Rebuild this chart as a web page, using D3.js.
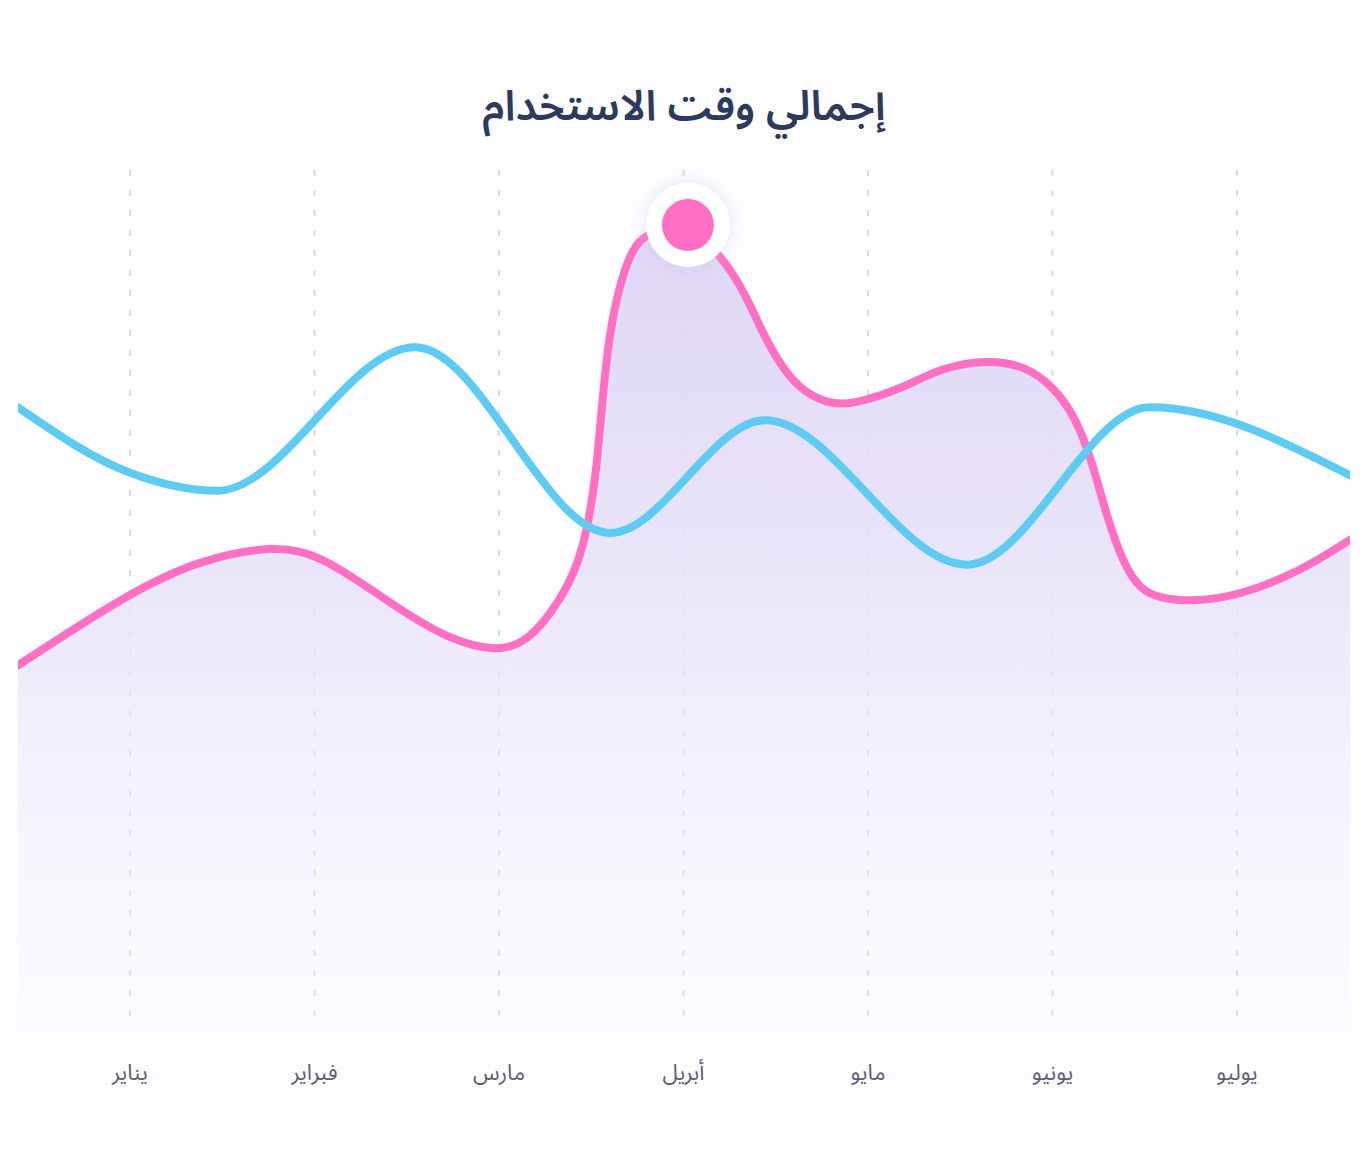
<!DOCTYPE html>
<html>
<head>
<meta charset="utf-8">
<script src="https://cdn.jsdelivr.net/npm/d3@7"></script>
<style>
  body { margin: 0; background: #fdfcff; }
  svg { display: block; }
</style>
</head>
<body>
<div id="chart"></div>
<script>
// Chart data
const months = ["يناير", "فبراير", "مارس", "أبريل", "مايو", "يونيو", "يوليو"];

// pink series: position in months (0 = يناير) and value
const pinkPos = [-0.607, 0, 0.379, 0.786, 1.046, 1.463, 1.734, 1.978, 2.168, 2.401, 2.477, 2.526, 2.558,
    2.596, 2.656, 2.721, 2.791, 3.024, 3.214, 3.344, 3.415, 3.507, 3.631, 3.778, 3.902, 4.211, 4.390, 4.661,
    4.862, 5.003, 5.111, 5.187, 5.241, 5.295, 5.382, 5.474, 5.583, 5.745, 6.0, 6.341, 6.612];
const pinkVals = [42.4, 50.9, 54.7, 56.4, 55.2, 48.8, 45.4, 44.0, 45.0, 52.1, 57.9, 64.5, 72.7,
    80.8, 86.9, 90.7, 92.7, 93.6, 89.9, 85.2, 81.7, 77.9, 74.4, 72.9, 72.6, 74.8, 77.0, 78.0,
    77.1, 74.8, 71.7, 67.8, 64.0, 59.7, 54.3, 51.2, 50.2, 49.8, 50.4, 53.3, 57.0];

// blue series
const bluePos = [-0.607, 0, 0.472, 1.545, 2.602, 3.442, 4.537, 5.528, 6.612];
const blueVals = [72.4, 64.8, 62.7, 79.4, 57.8, 70.9, 54.1, 72.4, 64.5];

const peakIndex = 17; // highlighted point on pink series

const width = 1368, height = 1150;
const plot = { left: 18, right: 1350, top: 170, bottom: 1030 };

const svg = d3.select("#chart")
    .append("svg")
    .attr("width", width)
    .attr("height", height);

const x = d3.scaleLinear().domain([0, 6]).range([130, 1237]);
const y = d3.scaleLinear().domain([0, 100]).range([plot.bottom, plot.top]);

const pinkData = pinkPos.map((p, i) => ({ p, v: pinkVals[i] }));
const blueData = bluePos.map((p, i) => ({ p, v: blueVals[i] }));

const defs = svg.append("defs");

const grad = defs.append("linearGradient")
    .attr("id", "areaGrad")
    .attr("gradientUnits", "userSpaceOnUse")
    .attr("x1", 0).attr("x2", 0)
    .attr("y1", y(95)).attr("y2", plot.bottom);
grad.append("stop").attr("offset", "0%").attr("stop-color", "#ddd5f5").attr("stop-opacity", 1);
grad.append("stop").attr("offset", "45%").attr("stop-color", "#e9e3f9").attr("stop-opacity", 0.9);
grad.append("stop").attr("offset", "100%").attr("stop-color", "#f6f2fd").attr("stop-opacity", 0.15);

const glow = defs.append("filter")
    .attr("id", "glow")
    .attr("x", "-100%").attr("y", "-100%")
    .attr("width", "300%").attr("height", "300%");
glow.append("feDropShadow")
    .attr("dx", 0).attr("dy", 0)
    .attr("stdDeviation", 8)
    .attr("flood-color", "#c9bdf0")
    .attr("flood-opacity", 0.4);

defs.append("clipPath").attr("id", "plotClip")
    .append("rect")
    .attr("x", plot.left).attr("y", 0)
    .attr("width", plot.right - plot.left).attr("height", height);

// Title
svg.append("text")
    .attr("x", width / 2)
    .attr("y", 120)
    .attr("text-anchor", "middle")
    .attr("direction", "rtl")
    .style("font-family", "'Noto Sans Arabic', 'DejaVu Sans', sans-serif")
    .style("font-size", "42px")
    .style("font-weight", "600")
    .style("fill", "#2e3a5c")
    .text("إجمالي وقت الاستخدام");

// Vertical dashed grid lines
svg.selectAll(".grid")
    .data(months)
    .enter()
    .append("line")
    .attr("class", "grid")
    .attr("x1", (d, i) => x(i))
    .attr("x2", (d, i) => x(i))
    .attr("y1", plot.top)
    .attr("y2", plot.bottom)
    .attr("stroke", "#dcd7f0")
    .attr("stroke-width", 2)
    .attr("stroke-dasharray", "6,14");

const g = svg.append("g").attr("clip-path", "url(#plotClip)");

// Area under pink line
const area = d3.area()
    .x(d => x(d.p))
    .y0(plot.bottom)
    .y1(d => y(d.v))
    .curve(d3.curveBasis);

g.append("path")
    .datum(pinkData)
    .attr("d", area)
    .attr("fill", "url(#areaGrad)");

const pinkLine = d3.line()
    .x(d => x(d.p))
    .y(d => y(d.v))
    .curve(d3.curveBasis);

const blueLine = d3.line()
    .x(d => x(d.p))
    .y(d => y(d.v))
    .curve(d3.curveMonotoneX);

g.append("path")
    .datum(pinkData)
    .attr("d", pinkLine)
    .attr("fill", "none")
    .attr("stroke", "#ff70c4")
    .attr("stroke-width", 8)
    .attr("stroke-linecap", "round");

g.append("path")
    .datum(blueData)
    .attr("d", blueLine)
    .attr("fill", "none")
    .attr("stroke", "#5ecbf3")
    .attr("stroke-width", 8)
    .attr("stroke-linecap", "round");

// Highlighted peak marker
const peak = pinkData[peakIndex];
svg.append("circle")
    .attr("cx", x(peak.p))
    .attr("cy", y(peak.v))
    .attr("r", 42)
    .attr("fill", "#ffffff")
    .attr("filter", "url(#glow)");
svg.append("circle")
    .attr("cx", x(peak.p))
    .attr("cy", y(peak.v))
    .attr("r", 26)
    .attr("fill", "#ff70c4");

// Month labels
svg.selectAll(".x-labels")
    .data(months)
    .enter()
    .append("text")
    .attr("class", "x-labels")
    .attr("x", (d, i) => x(i))
    .attr("y", 1080)
    .attr("text-anchor", "middle")
    .attr("direction", "rtl")
    .style("font-family", "'Noto Sans Arabic', 'DejaVu Sans', sans-serif")
    .style("font-size", "22px")
    .style("fill", "#625c7a")
    .text(d => d);
</script>
</body>
</html>
